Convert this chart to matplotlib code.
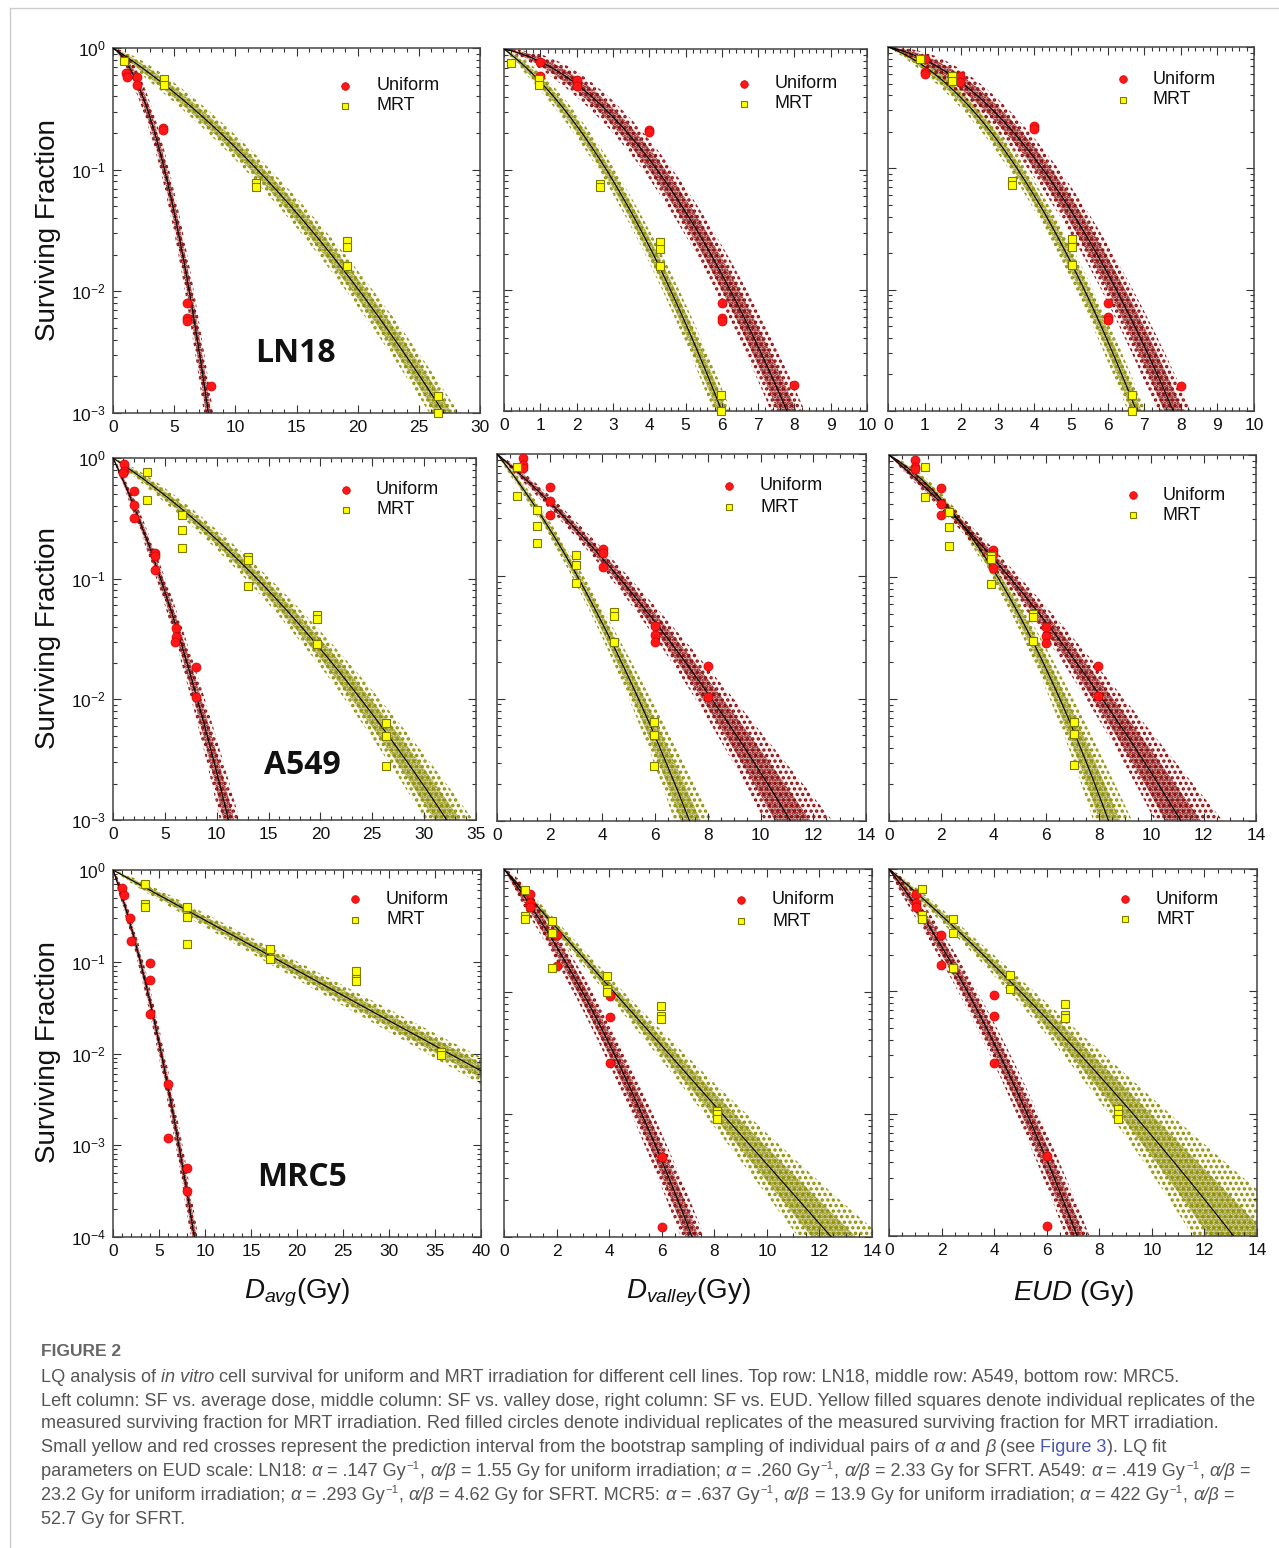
import numpy as np
import matplotlib
matplotlib.use("Agg")
import matplotlib.pyplot as plt
from matplotlib.ticker import MultipleLocator, LogLocator, NullFormatter
from matplotlib.colors import to_rgba

# ---------------- data ----------------
CELL_LINES = ["LN18", "A549", "MRC5"]
X_LABELS = [r"$D_{avg}$(Gy)", r"$D_{valley}$(Gy)", r"$EUD$ (Gy)"]

# LQ fit parameters (uniform: from caption, same for all dose scales)
UNI_ALPHA = [0.147, 0.419, 0.637]
UNI_AB = [1.55, 23.2, 13.9]
# MRT fits per row (cell line) and column (Davg, Dvalley, EUD)
MRT_ALPHA = [[0.1486, 0.520, 0.260], [0.129, 0.618, 0.293], [0.126, 0.551, 0.422]]
MRT_AB = [[37.6, 4.94, 2.33], [48.5, 13.8, 4.62], [1e9, 1840.0, 52.7]]

# prediction interval half-width in decades: h0 + r1*L + r2*L^2  (L = -log10 SF)
UNI_BAND = [[(0.09, 0.06, 0.0), (0.09, 0.08, 0.0), (0.09, 0.08, 0.0)],
            [(0.05, 0.04, 0.018), (0.05, 0.0, 0.042), (0.05, 0.0, 0.042)],
            [(0.08, 0.045, 0.0), (0.09, 0.055, 0.0), (0.09, 0.055, 0.0)]]
MRT_BAND = [[(0.07, 0.04, 0.0), (0.07, 0.04, 0.0), (0.07, 0.04, 0.0)],
            [(0.05, 0.04, 0.014), (0.05, 0.0, 0.036), (0.05, 0.0, 0.04)],
            [(0.05, 0.045, 0.0), (0.05, 0.0, 0.035), (0.05, 0.0, 0.055)]]

# measured replicates
ln18_avg_uni_d = [1.1, 1.15, 2.0, 2.0, 4.1, 4.1, 6.05, 6.05, 6.05, 8.0]
ln18_avg_uni_sf = [0.62, 0.58, 0.58, 0.50, 0.22, 0.21, 0.0080, 0.0060, 0.0057, 0.00166]
ln18_avg_mrt_d = [0.93, 4.15, 4.15, 11.7, 11.7, 19.1, 19.1, 19.1, 26.6, 26.6]
ln18_avg_mrt_sf = [0.785, 0.56, 0.50, 0.078, 0.072, 0.026, 0.023, 0.0162, 0.00138, 0.00100]

ln18_val_uni_d = [1.0, 1.0, 2.0, 2.0, 4.0, 4.0, 6.0, 6.0, 6.0, 8.0]
ln18_val_uni_sf = [0.78, 0.60, 0.55, 0.49, 0.213, 0.206, 0.0078, 0.0059, 0.0056, 0.00164]
ln18_val_mrt_d = [0.2, 0.96, 0.96, 2.64, 2.64, 4.31, 4.31, 4.31, 5.98, 5.98]
ln18_val_mrt_sf = [0.77, 0.56, 0.50, 0.076, 0.072, 0.0253, 0.022, 0.0158, 0.00135, 0.00100]

ln18_eud_uni_d = [1.0, 1.0, 1.0, 1.98, 1.98, 3.99, 3.99, 6.0, 6.0, 6.0, 8.0]
ln18_eud_uni_sf = [0.80, 0.62, 0.60, 0.58, 0.51, 0.224, 0.21, 0.0078, 0.0060, 0.0056, 0.0016]
ln18_eud_mrt_d = [0.87, 1.74, 1.74, 3.4, 3.4, 5.03, 5.03, 5.03, 6.68, 6.68]
ln18_eud_mrt_sf = [0.80, 0.58, 0.52, 0.078, 0.073, 0.026, 0.0225, 0.0159, 0.00136, 0.00100]

a549_avg_uni_d = [1.09, 1.09, 1.0, 2.05, 2.05, 2.05, 4.08, 4.08, 4.08, 6.07, 6.07, 6.0, 8.03, 8.03]
a549_avg_uni_sf = [0.89, 0.78, 0.75, 0.53, 0.41, 0.32, 0.163, 0.153, 0.118, 0.039, 0.033, 0.030, 0.0186, 0.0104]
a549_avg_mrt_d = [3.28, 3.28, 6.65, 6.65, 6.65, 13.0, 13.0, 13.0, 19.65, 19.65, 19.65, 26.3, 26.3, 26.3]
a549_avg_mrt_sf = [0.77, 0.45, 0.34, 0.255, 0.18, 0.15, 0.143, 0.087, 0.050, 0.046, 0.029, 0.0064, 0.0050, 0.0028]

a549_val_uni_d = [0.99, 0.99, 0.99, 2.0, 2.0, 2.0, 4.01, 4.01, 4.01, 6.0, 6.0, 6.0, 8.0, 8.0]
a549_val_uni_sf = [0.92, 0.81, 0.77, 0.54, 0.41, 0.32, 0.167, 0.155, 0.119, 0.039, 0.033, 0.029, 0.0184, 0.0103]
a549_val_mrt_d = [0.74, 0.74, 1.5, 1.5, 1.5, 2.98, 2.98, 2.98, 4.44, 4.44, 4.44, 5.96, 5.96, 5.96]
a549_val_mrt_sf = [0.79, 0.455, 0.35, 0.26, 0.186, 0.15, 0.123, 0.088, 0.051, 0.047, 0.029, 0.0064, 0.0050, 0.0028]

a549_eud_uni_d = [0.99, 0.99, 0.99, 1.98, 1.98, 1.98, 3.98, 3.98, 3.98, 5.99, 5.99, 5.99, 7.99, 7.99]
a549_eud_uni_sf = [0.91, 0.80, 0.77, 0.54, 0.40, 0.32, 0.165, 0.153, 0.118, 0.039, 0.033, 0.029, 0.0188, 0.0105]
a549_eud_mrt_d = [1.37, 1.37, 2.29, 2.29, 2.29, 3.89, 3.89, 3.89, 5.48, 5.48, 5.48, 7.06, 7.06, 7.06]
a549_eud_mrt_sf = [0.79, 0.45, 0.34, 0.255, 0.18, 0.15, 0.14, 0.087, 0.050, 0.047, 0.030, 0.0065, 0.0052, 0.0029]

mrc5_avg_uni_d = [0.98, 1.15, 1.89, 2.0, 4.07, 4.07, 4.07, 6.0, 6.0, 8.0, 8.0]
mrc5_avg_uni_sf = [0.64, 0.54, 0.30, 0.167, 0.097, 0.064, 0.027, 0.0047, 0.0012, 0.00056, 0.00032]
mrc5_avg_mrt_d = [3.52, 3.52, 3.52, 8.0, 8.0, 8.0, 17.1, 17.1, 26.4, 26.4, 26.4, 35.7, 35.7]
mrc5_avg_mrt_sf = [0.70, 0.43, 0.40, 0.40, 0.306, 0.158, 0.136, 0.106, 0.080, 0.065, 0.061, 0.0105, 0.0097]

mrc5_val_uni_d = [1.0, 1.0, 1.0, 2.03, 2.03, 4.04, 4.04, 4.04, 6.01, 6.01]
mrc5_val_uni_sf = [0.63, 0.53, 0.49, 0.29, 0.162, 0.093, 0.0625, 0.026, 0.0045, 0.0012]
mrc5_val_mrt_d = [0.79, 0.79, 0.79, 1.81, 1.81, 1.81, 3.91, 3.91, 3.91, 5.99, 5.99, 5.99, 8.09, 8.09, 8.09]
mrc5_val_mrt_sf = [0.67, 0.415, 0.39, 0.38, 0.30, 0.155, 0.134, 0.105, 0.10, 0.077, 0.063, 0.060, 0.0107, 0.0101, 0.0092]

mrc5_eud_uni_d = [1.01, 1.01, 1.01, 1.98, 1.98, 4.0, 4.0, 4.0, 6.0, 6.0]
mrc5_eud_uni_sf = [0.63, 0.53, 0.49, 0.29, 0.165, 0.093, 0.063, 0.026, 0.0045, 0.0012]
mrc5_eud_mrt_d = [1.27, 1.27, 1.27, 2.42, 2.42, 2.42, 4.6, 4.6, 6.69, 6.69, 6.69, 8.72, 8.72, 8.72]
mrc5_eud_mrt_sf = [0.68, 0.42, 0.39, 0.39, 0.30, 0.155, 0.135, 0.105, 0.079, 0.064, 0.061, 0.011, 0.0100, 0.0091]

UNI_D = [[ln18_avg_uni_d, ln18_val_uni_d, ln18_eud_uni_d],
         [a549_avg_uni_d, a549_val_uni_d, a549_eud_uni_d],
         [mrc5_avg_uni_d, mrc5_val_uni_d, mrc5_eud_uni_d]]
UNI_SF = [[ln18_avg_uni_sf, ln18_val_uni_sf, ln18_eud_uni_sf],
          [a549_avg_uni_sf, a549_val_uni_sf, a549_eud_uni_sf],
          [mrc5_avg_uni_sf, mrc5_val_uni_sf, mrc5_eud_uni_sf]]
MRT_D = [[ln18_avg_mrt_d, ln18_val_mrt_d, ln18_eud_mrt_d],
         [a549_avg_mrt_d, a549_val_mrt_d, a549_eud_mrt_d],
         [mrc5_avg_mrt_d, mrc5_val_mrt_d, mrc5_eud_mrt_d]]
MRT_SF = [[ln18_avg_mrt_sf, ln18_val_mrt_sf, ln18_eud_mrt_sf],
          [a549_avg_mrt_sf, a549_val_mrt_sf, a549_eud_mrt_sf],
          [mrc5_avg_mrt_sf, mrc5_val_mrt_sf, mrc5_eud_mrt_sf]]

X_MAX = [[30, 10, 10], [35, 14, 14], [40, 14, 14]]
X_MAJOR = [[5, 1, 1], [5, 2, 2], [5, 2, 2]]
X_MINOR = [[1, 0.2, 0.2], [1, 0.5, 0.5], [1, 0.5, 0.5]]
Y_MIN = [[1e-3, 1e-3, 1e-3], [1e-3, 1e-3, 1e-3], [1e-4, 1e-3, 1e-3]]

# ---------------- layout (pixels) ----------------
W, H = 1279, 1548
RECTS = [[(113, 48, 480, 413), (504, 49, 867, 411), (888, 47, 1254, 411)],
         [(113, 458, 476, 820), (497, 454, 866, 821), (889, 455, 1256, 821)],
         [(113, 870, 481, 1237), (504, 869, 872, 1237), (889, 869, 1257, 1236)]]
LEG = [[(345, 86, 106, 377), (744, 84, 104, 775), (1123, 79, 100, 1153)],
       [(346, 490, 510, 376), (729, 486, 507, 760), (1133, 495, 515, 1163)],
       [(355, 899, 920, 386), (741, 900, 921, 772), (1125, 899, 919, 1156)]]
CELL_POS = [(295, 353), (302, 765), (302, 1178)]
XLAB_POS = [(297, 1293), (688, 1293), (1073, 1293)]
YLAB_Y = [230, 638, 1052]

UNI_CLOUD = "#8a0d0d"
MRT_CLOUD = "#8e8e08"

plt.rcParams["font.family"] = ["Liberation Sans", "DejaVu Sans"]
plt.rcParams["mathtext.fontset"] = "custom"
plt.rcParams["mathtext.rm"] = "Liberation Sans"
plt.rcParams["mathtext.it"] = "Liberation Sans:italic"
plt.rcParams["hatch.linewidth"] = 1.6

fig = plt.figure(figsize=(W / 100, H / 100), dpi=100)


def lq(d, a, b):
    return a * d + b * d ** 2


def draw_curve(ax, a, b, band, xmax, color):
    d = np.linspace(0, xmax * 1.3, 600)
    L = lq(d, a, b) / np.log(10)
    h0, r1, r2 = band
    h = h0 * (1 - np.exp(-L / 0.12)) + r1 * L + r2 * L ** 2
    sf = 10 ** (-L)
    # outer, sparser part of the prediction cloud
    ax.fill_between(d, sf * 10 ** (-h), sf * 10 ** h, facecolor=to_rgba(color, 0.05),
                    edgecolor=color, hatch="...", linewidth=0, zorder=1)
    # inner, denser core
    hi = 0.55 * h
    ax.fill_between(d, sf * 10 ** (-hi), sf * 10 ** hi, facecolor=to_rgba(color, 0.25),
                    edgecolor=color, hatch=".....", linewidth=0, zorder=1)
    return d, sf


for i in range(3):
    for j in range(3):
        l, t, r, b = RECTS[i][j]
        ax = fig.add_axes([l / W, 1 - b / H, (r - l) / W, (b - t) / H])
        ax.set_yscale("log")
        ax.set_xlim(0, X_MAX[i][j])
        ax.set_ylim(Y_MIN[i][j], 1.0)
        xmax = X_MAX[i][j]
        ua = UNI_ALPHA[i]
        ub = ua / UNI_AB[i]
        ma = MRT_ALPHA[i][j]
        mb = ma / MRT_AB[i][j]
        dm, sfm = draw_curve(ax, ma, mb, MRT_BAND[i][j], xmax, MRT_CLOUD)
        du, sfu = draw_curve(ax, ua, ub, UNI_BAND[i][j], xmax, UNI_CLOUD)
        ax.plot(dm, sfm, color="black", lw=0.8, zorder=3)
        ax.plot(du, sfu, color="black", lw=0.8, zorder=3)
        ax.plot(UNI_D[i][j], UNI_SF[i][j], "o", ms=6.5, mfc="#ff1717", mec="#d00000",
                mew=0.5, zorder=5, clip_on=False)
        ax.plot(MRT_D[i][j], MRT_SF[i][j], "s", ms=5.8, mfc="#ffff00", mec="#7a7a00",
                mew=0.8, zorder=5, clip_on=False)
        ax.xaxis.set_major_locator(MultipleLocator(X_MAJOR[i][j]))
        ax.xaxis.set_minor_locator(MultipleLocator(X_MINOR[i][j]))
        ax.yaxis.set_major_locator(LogLocator(base=10, numticks=10))
        ax.yaxis.set_minor_locator(LogLocator(base=10, subs=np.arange(2, 10), numticks=10))
        ax.yaxis.set_minor_formatter(NullFormatter())
        ax.tick_params(which="both", direction="in", top=True, right=True,
                       color="#333333", width=0.8, labelsize=12.5, labelcolor="#111111")
        ax.tick_params(which="major", length=6, pad=5)
        ax.tick_params(which="minor", length=3)
        if j > 0:
            ax.tick_params(labelleft=False)
        for s in ax.spines.values():
            s.set_color("#444444")
            s.set_linewidth(1.1)

# overlay in pixel coordinates
ov = fig.add_axes([0, 0, 1, 1], zorder=10)
ov.set_xlim(0, W)
ov.set_ylim(H, 0)
ov.axis("off")
ov.patch.set_alpha(0)

# legends
for i in range(3):
    for j in range(3):
        mx, yu, ym, tx = LEG[i][j]
        ov.plot([mx], [yu], "o", ms=5.5, mfc="#ff1717", mec="#d00000", mew=0.5)
        ov.plot([mx], [ym], "s", ms=5.0, mfc="#ffff00", mec="#7a7a00", mew=0.8)
        ov.text(tx, yu, "Uniform", fontsize=13, va="center", ha="left", color="#111111")
        ov.text(tx, ym, "MRT", fontsize=13, va="center", ha="left", color="#111111")

for name, (x, y) in zip(CELL_LINES, CELL_POS):
    ov.text(x, y, name, fontsize=23, fontweight="bold", family="Open Sans",
            ha="center", va="center", color="#111111")
for lab, (x, y) in zip(X_LABELS, XLAB_POS):
    ov.text(x, y, lab, fontsize=20, ha="center", va="center", color="#111111")
for y in YLAB_Y:
    ov.text(48, y, "Surviving Fraction", fontsize=20, rotation=90, ha="center",
            va="center", color="#111111")

# border lines
ov.plot([10, W], [7.5, 7.5], color="#cccccc", lw=1.0, clip_on=False)
ov.plot([10, 10], [7.5, H], color="#cccccc", lw=1.0, clip_on=False)

# caption
rend = fig.canvas.get_renderer()
CAP_FAMILY = ["Liberation Sans Narrow", "Liberation Sans", "DejaVu Sans"]
CAP_COLOR = "#555555"


def measure(s, size, **kw):
    t1 = ov.text(0, 0, "x" + s + "x", fontsize=size, family=CAP_FAMILY, **kw)
    t2 = ov.text(0, 0, "xx", fontsize=size, family=CAP_FAMILY, **kw)
    w = t1.get_window_extent(rend).width - t2.get_window_extent(rend).width
    t1.remove()
    t2.remove()
    return w


A = ("α", "i")
AB = ("α/β", "i")
SUP = ("−1", "s")

LINES = [
    [("LQ analysis of ", "n"), ("in vitro", "i"),
     (" cell survival for uniform and MRT irradiation for different cell lines. Top row: LN18, middle row: A549, bottom row: MRC5.", "n")],
    [("Left column: SF vs. average dose, middle column: SF vs. valley dose, right column: SF vs. EUD. Yellow filled squares denote individual replicates of the", "n")],
    [("measured surviving fraction for MRT irradiation. Red filled circles denote individual replicates of the measured surviving fraction for MRT irradiation.", "n")],
    [("Small yellow and red crosses represent the prediction interval from the bootstrap sampling of individual pairs of ", "n"), A,
     (" and ", "n"), ("β", "i"), (" (see ", "n"), ("Figure 3", "b"), ("). LQ fit", "n")],
    [("parameters on EUD scale: LN18: ", "n"), A, (" = .147 Gy", "n"), SUP, (", ", "n"), AB,
     (" = 1.55 Gy for uniform irradiation; ", "n"), A, (" = .260 Gy", "n"), SUP, (", ", "n"), AB,
     (" = 2.33 Gy for SFRT. A549: ", "n"), A, (" = .419 Gy", "n"), SUP, (", ", "n"), AB, (" =", "n")],
    [("23.2 Gy for uniform irradiation; ", "n"), A, (" = .293 Gy", "n"), SUP, (", ", "n"), AB,
     (" = 4.62 Gy for SFRT. MCR5: ", "n"), A, (" = .637 Gy", "n"), SUP, (", ", "n"), AB,
     (" = 13.9 Gy for uniform irradiation; ", "n"), A, (" = 422 Gy", "n"), SUP, (", ", "n"), AB, (" =", "n")],
    [("52.7 Gy for SFRT.", "n")],
]
LINE_Y = [1377, 1401, 1424, 1448, 1472, 1496, 1520]

size = 12.0
w2 = measure(LINES[1][0][0], size)
size = size * 1221.0 / w2


def seg_kw(style):
    kw = {}
    if style == "i":
        kw["style"] = "italic"
    return kw


for segs, y in zip(LINES, LINE_Y):
    x = 41.0
    for txt, st in segs:
        if st == "s":
            sz = size * 0.62
            ov.text(x + 1, y - size * 0.45, txt, fontsize=sz, family=CAP_FAMILY,
                    color=CAP_COLOR, va="center", ha="left")
            x += measure(txt, sz) + 1.5
        else:
            col = "#4a56b0" if st == "b" else CAP_COLOR
            kw = seg_kw(st)
            ov.text(x, y, txt, fontsize=size, family=CAP_FAMILY, color=col,
                    va="center", ha="left", **kw)
            x += measure(txt, size, **kw)

ov.text(41, 1352, "FIGURE 2", fontsize=12.5, fontweight="bold", family=CAP_FAMILY,
        color="#666666", va="center", ha="left")

fig.savefig("out.png", dpi=100)
